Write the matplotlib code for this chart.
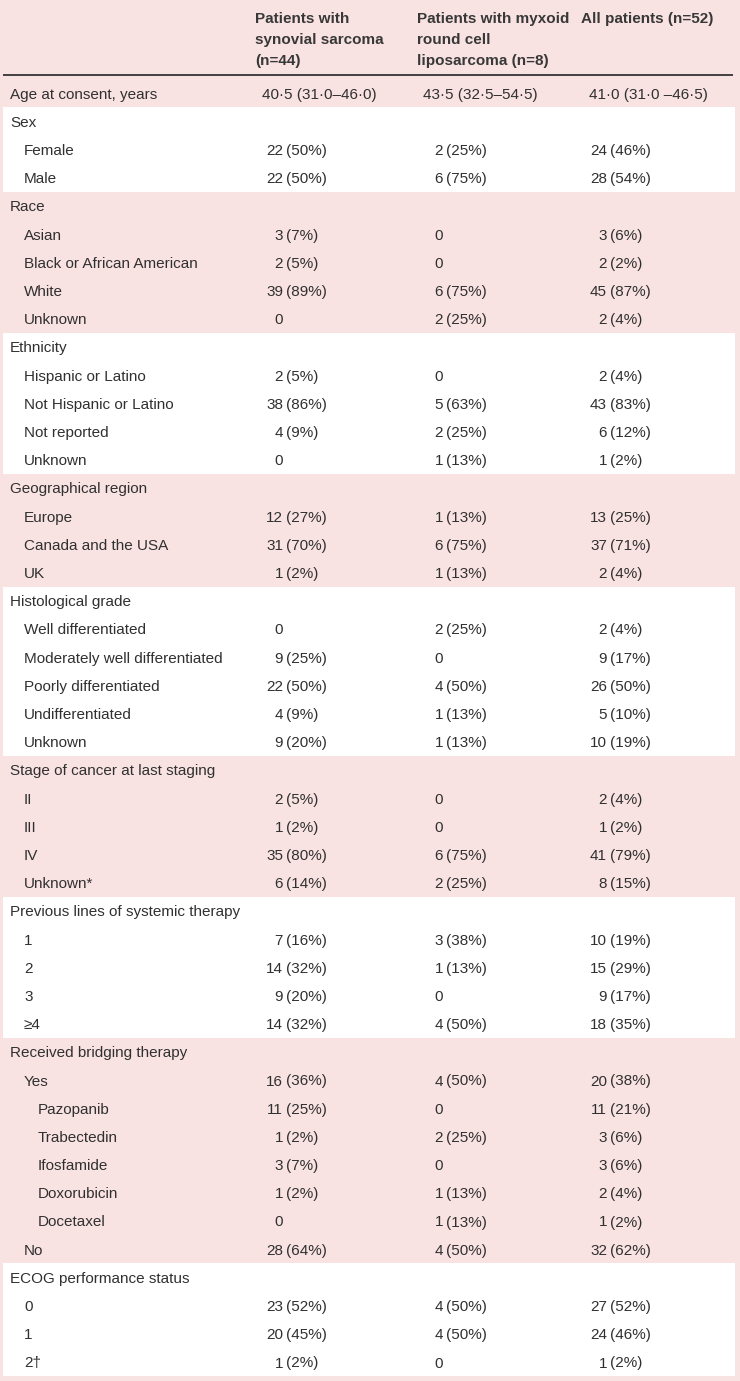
import matplotlib
matplotlib.use("Agg")
import matplotlib.pyplot as plt
from matplotlib.patches import Rectangle

plt.rcParams['font.family'] = ['Liberation Sans', 'DejaVu Sans']

# ---- table data ----
headers = ["Patients with\nsynovial sarcoma\n(n=44)",
           "Patients with myxoid\nround cell\nliposarcoma (n=8)",
           "All patients (n=52)"]

labels = ["Age at consent, years", "Sex", "Female", "Male", "Race", "Asian",
          "Black or African American", "White", "Unknown", "Ethnicity",
          "Hispanic or Latino", "Not Hispanic or Latino", "Not reported", "Unknown",
          "Geographical region", "Europe", "Canada and the USA", "UK",
          "Histological grade", "Well differentiated", "Moderately well differentiated",
          "Poorly differentiated", "Undifferentiated", "Unknown",
          "Stage of cancer at last staging", "II", "III", "IV", "Unknown*",
          "Previous lines of systemic therapy", "1", "2", "3", "\u22654",
          "Received bridging therapy", "Yes", "Pazopanib", "Trabectedin", "Ifosfamide",
          "Doxorubicin", "Docetaxel", "No",
          "ECOG performance status", "0", "1", "2\u2020"]

indent = [0, 0, 1, 1, 0, 1, 1, 1, 1, 0, 1, 1, 1, 1, 0, 1, 1, 1, 0, 1, 1, 1, 1, 1,
          0, 1, 1, 1, 1, 0, 1, 1, 1, 1, 0, 1, 2, 2, 2, 2, 2, 1, 0, 1, 1, 1]

synovial = ["40\u00b75 (31\u00b70\u201346\u00b70)", "", "22 (50%)", "22 (50%)", "",
            "3 (7%)", "2 (5%)", "39 (89%)", "0", "", "2 (5%)", "38 (86%)", "4 (9%)", "0",
            "", "12 (27%)", "31 (70%)", "1 (2%)", "", "0", "9 (25%)", "22 (50%)", "4 (9%)",
            "9 (20%)", "", "2 (5%)", "1 (2%)", "35 (80%)", "6 (14%)", "", "7 (16%)",
            "14 (32%)", "9 (20%)", "14 (32%)", "", "16 (36%)", "11 (25%)", "1 (2%)",
            "3 (7%)", "1 (2%)", "0", "28 (64%)", "", "23 (52%)", "20 (45%)", "1 (2%)"]

myxoid = ["43\u00b75 (32\u00b75\u201354\u00b75)", "", "2 (25%)", "6 (75%)", "", "0", "0",
          "6 (75%)", "2 (25%)", "", "0", "5 (63%)", "2 (25%)", "1 (13%)", "", "1 (13%)",
          "6 (75%)", "1 (13%)", "", "2 (25%)", "0", "4 (50%)", "1 (13%)", "1 (13%)", "",
          "0", "0", "6 (75%)", "2 (25%)", "", "3 (38%)", "1 (13%)", "0", "4 (50%)", "",
          "4 (50%)", "0", "2 (25%)", "0", "1 (13%)", "1 (13%)", "4 (50%)", "",
          "4 (50%)", "4 (50%)", "0"]

all_pts = ["41\u00b70 (31\u00b70 \u201346\u00b75)", "", "24 (46%)", "28 (54%)", "",
           "3 (6%)", "2 (2%)", "45 (87%)", "2 (4%)", "", "2 (4%)", "43 (83%)", "6 (12%)",
           "1 (2%)", "", "13 (25%)", "37 (71%)", "2 (4%)", "", "2 (4%)", "9 (17%)",
           "26 (50%)", "5 (10%)", "10 (19%)", "", "2 (4%)", "1 (2%)", "41 (79%)",
           "8 (15%)", "", "10 (19%)", "15 (29%)", "9 (17%)", "18 (35%)", "",
           "20 (38%)", "11 (21%)", "3 (6%)", "3 (6%)", "2 (4%)", "1 (2%)", "32 (62%)", "",
           "27 (52%)", "24 (46%)", "1 (2%)"]

columns = [synovial, myxoid, all_pts]

# ---- layout ----
W, H = 740, 1381
pink = '#f9e3e2'
ink = '#303030'
fs = 11
y0, rh = 93, 28.2
label_x = [10, 24, 38]
head_x = [255, 417, 581]
count_x = [283, 443, 607]
age_x = [319, 480, 648]

fig = plt.figure(figsize=(W / 100, H / 100), dpi=100)
fig.patch.set_facecolor(pink)
ax = fig.add_axes([0, 0, 1, 1])
ax.set_xlim(0, W)
ax.set_ylim(H, 0)
ax.axis('off')

# white bands for every second group
starts = [i for i, d in enumerate(indent) if d == 0]
for k, s in enumerate(starts):
    e = starts[k + 1] if k + 1 < len(starts) else len(labels)
    if k % 2 == 1:
        top = y0 + s * rh - rh / 2
        ax.add_patch(Rectangle((2.7, top), 735 - 2.7, (e - s) * rh,
                               facecolor='white', edgecolor='none', zorder=0))

# header
for j, h in enumerate(headers):
    for k, line in enumerate(h.split("\n")):
        ax.text(head_x[j], 17 + 21 * k, line, ha='left', va='center_baseline',
                fontsize=fs, fontweight='bold', color='#383838')
ax.plot([2.5, 733], [75, 75], color='#333333', lw=1.3, solid_capstyle='butt')

# body
for i, lab in enumerate(labels):
    y = y0 + i * rh
    ax.text(label_x[indent[i]], y, lab, ha='left', va='center_baseline',
            fontsize=fs, color=ink)
    for j, col in enumerate(columns):
        v = col[i]
        if not v:
            continue
        if i == 0:
            ax.text(age_x[j], y, v, ha='center', va='center_baseline',
                    fontsize=fs, color=ink)
            continue
        parts = v.split(" ", 1)
        ax.text(count_x[j], y, parts[0], ha='right', va='center_baseline',
                fontsize=fs, color=ink)
        if len(parts) > 1:
            ax.text(count_x[j] + 3, y, parts[1], ha='left', va='center_baseline',
                    fontsize=fs, color=ink)

fig.savefig("out.png", dpi=100, facecolor=fig.get_facecolor())
